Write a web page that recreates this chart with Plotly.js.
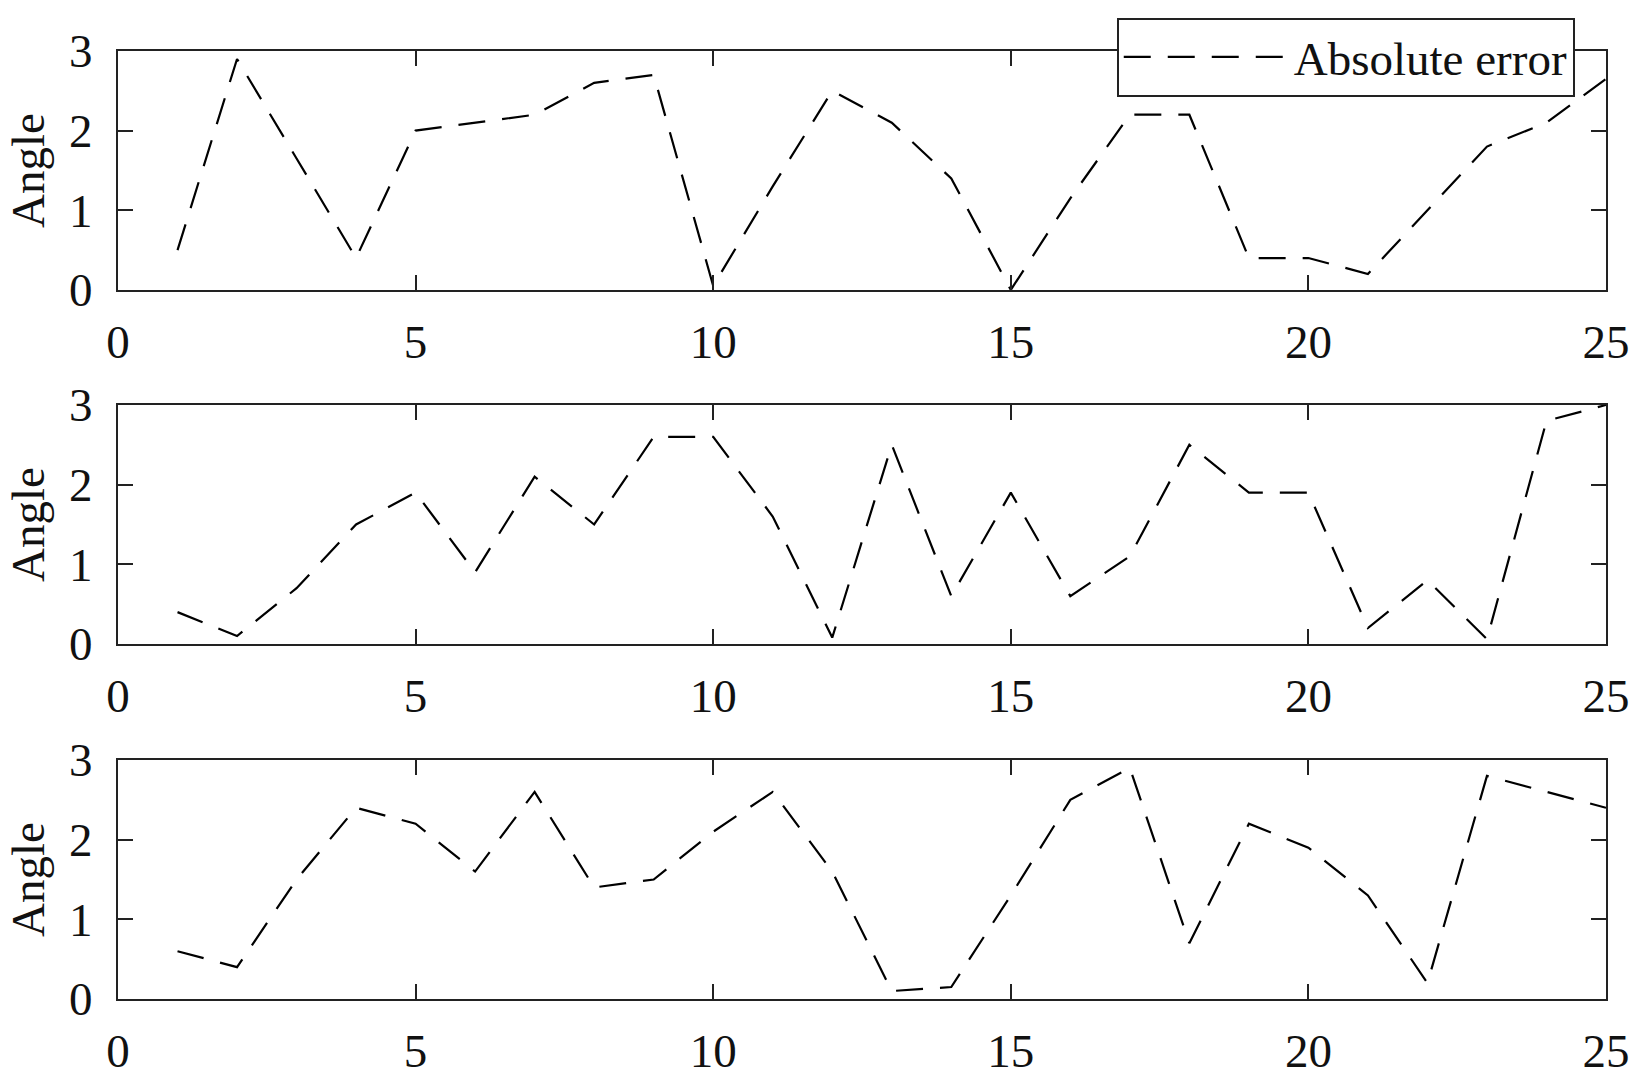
<!DOCTYPE html>
<html>
<head>
<meta charset="utf-8">
<script src="https://cdn.plot.ly/plotly-3.0.1.min.js"></script>
<style>
  html, body { margin: 0; padding: 0; background: #fff; }
  #chart { width: 1645px; height: 1091px; }
</style>
</head>
<body>
<div id="chart"></div>
<script>
// sample index, shared by the three panels
const steps = [1, 2, 3, 4, 5, 6, 7, 8, 9, 10, 11, 12, 13, 14, 15, 16, 17, 18, 19, 20, 21, 22, 23, 24, 25];

// absolute angle error per panel
const errTop = [0.5, 2.9, 1.65, 0.4, 2.0, 2.1, 2.2, 2.6, 2.7, 0.05, 1.3, 2.5, 2.1, 1.4, 0.0, 1.15, 2.2, 2.2, 0.4, 0.4, 0.2, 1.0, 1.8, 2.1, 2.65];
const errMid = [0.4, 0.1, 0.7, 1.5, 1.9, 0.9, 2.1, 1.5, 2.6, 2.6, 1.6, 0.08, 2.5, 0.6, 1.9, 0.6, 1.1, 2.5, 1.9, 1.9, 0.2, 0.8, 0.06, 2.8, 3.0];
const errBot = [0.6, 0.4, 1.5, 2.4, 2.2, 1.6, 2.6, 1.4, 1.5, 2.1, 2.6, 1.6, 0.1, 0.15, 1.3, 2.5, 2.9, 0.7, 2.2, 1.9, 1.3, 0.2, 2.8, 2.6, 2.4];

const xTicks = [0, 5, 10, 15, 20, 25];
const yTicks = [0, 1, 2, 3];
const legendName = "Absolute error";
const yLabel = "Angle";

const serif = "Liberation Serif, Times New Roman, serif";
const ink = "#222";

function errLine(y, xa, ya, first) {
  return {
    x: steps,
    y: y,
    xaxis: xa,
    yaxis: ya,
    mode: "lines",
    type: "scatter",
    name: legendName,
    showlegend: first,
    line: { color: "#000", width: 2.2, dash: "27px,17px" }
  };
}

const data = [
  errLine(errTop, "x", "y", true),
  errLine(errMid, "x2", "y2", false),
  errLine(errBot, "x3", "y3", false)
];

function xAxis(anchor) {
  return {
    anchor: anchor,
    domain: [0, 1],
    range: [0, 25],
    tickvals: xTicks,
    ticks: "inside",
    ticklen: 15,
    tickwidth: 2,
    tickcolor: ink,
    showline: true,
    linecolor: ink,
    linewidth: 2,
    mirror: "ticks",
    showgrid: false,
    zeroline: false,
    ticklabelstandoff: 10,
    tickfont: { family: serif, size: 47, color: "#111" }
  };
}

function yAxis(anchor, dom) {
  return {
    anchor: anchor,
    domain: dom,
    range: [0, 3],
    tickvals: yTicks,
    ticks: "inside",
    ticklen: 15,
    tickwidth: 2,
    tickcolor: ink,
    showline: true,
    linecolor: ink,
    linewidth: 2,
    mirror: "ticks",
    showgrid: false,
    zeroline: false,
    ticklabelstandoff: 14,
    tickfont: { family: serif, size: 47, color: "#111" },
    title: { text: yLabel, standoff: 10, font: { family: serif, size: 47, color: "#111" } }
  };
}

const layout = {
  width: 1645,
  height: 1091,
  margin: { l: 118, r: 39, t: 51, b: 92 },
  paper_bgcolor: "#fff",
  plot_bgcolor: "#fff",
  font: { family: serif, color: "#111" },
  xaxis: xAxis("y"),
  yaxis: yAxis("x", [0.748, 1]),
  xaxis2: xAxis("y2"),
  yaxis2: yAxis("x2", [0.3745, 0.6266]),
  xaxis3: xAxis("y3"),
  yaxis3: yAxis("x3", [0, 0.2521]),
  legend: {
    x: 0.979,
    y: 1.035,
    xanchor: "right",
    yanchor: "top",
    bgcolor: "#fff",
    bordercolor: ink,
    borderwidth: 2,
    itemwidth: 165,
    font: { family: serif, size: 47, color: "#111" }
  }
};

Plotly.newPlot("chart", data, layout, { staticPlot: true });
</script>
</body>
</html>
